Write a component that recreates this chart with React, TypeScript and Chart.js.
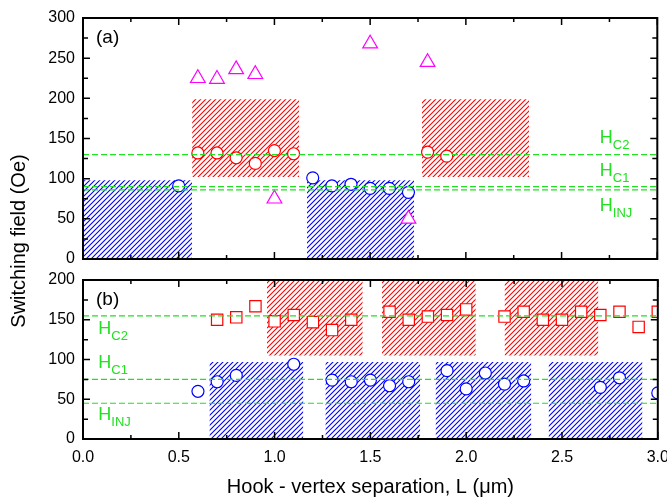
import React, { useEffect, useRef } from 'react';
import { Chart, registerables } from 'chart.js';

Chart.register(...registerables);

const FONT = '"Liberation Sans", Arial, Helvetica, sans-serif';
const BLUE = '#0000ff';
const RED = '#ff0000';
const MAGENTA = '#ff00ff';
const GREEN = '#22e022';

// ---- shared axis ----
const xTicks = [0, 0.5, 1.0, 1.5, 2.0, 2.5, 3.0];
const xTitle = 'Hook - vertex separation, L (\u03bcm)';
const yTitle = 'Switching field (Oe)';

// ---- panel (a) ----
const aYTicks = [0, 50, 100, 150, 200, 250, 300];
const aBlueX = [0.5, 1.2, 1.3, 1.4, 1.5, 1.6, 1.7];
const aBlueY = [91, 101, 91, 93, 88, 88, 83];
const aRedX = [0.6, 0.7, 0.8, 0.9, 1.0, 1.1, 1.8, 1.9];
const aRedY = [132, 132, 126, 119, 135, 131, 133, 128];
const aTriX = [0.6, 0.7, 0.8, 0.9, 1.0, 1.5, 1.7, 1.8];
const aTriY = [225, 224, 236, 230, 75, 268, 50, 245];
const aLevels = [130, 90, 86];
const aLevelNames = ['C2', 'C1', 'INJ'];
const aBlueBands = [[0, 0.57, 0, 98], [1.17, 1.73, 0, 98]];
const aRedBands = [[0.57, 1.13, 102, 199], [1.77, 2.33, 102, 199]];

// ---- panel (b) ----
const bYTicks = [0, 50, 100, 150, 200];
const bRedX = [0.7, 0.8, 0.9, 1.0, 1.1, 1.2, 1.3, 1.4, 1.6, 1.7, 1.8, 1.9, 2.0, 2.2, 2.3, 2.4, 2.5, 2.6, 2.7, 2.8, 2.9, 3.0];
const bRedY = [150, 153, 167, 148, 156, 147, 137, 150, 160, 150, 154, 156, 163, 154, 160, 150, 150, 160, 156, 160, 141, 160];
const bBlueX = [0.6, 0.7, 0.8, 1.1, 1.3, 1.4, 1.5, 1.6, 1.7, 1.9, 2.0, 2.1, 2.2, 2.3, 2.7, 2.8, 3.0];
const bBlueY = [60, 72, 80, 94, 74, 72, 74, 67, 72, 86, 63, 83, 69, 73, 65, 77, 58];
const bLevels = [155, 75, 45];
const bLevelNames = ['C2', 'C1', 'INJ'];
const bRedBands = [[0.96, 1.46, 105, 200], [1.56, 2.05, 105, 200], [2.2, 2.69, 105, 200]];
const bBlueBands = [[0.66, 1.15, 0, 97], [1.265, 1.76, 0, 97], [1.84, 2.34, 0, 97], [2.43, 2.92, 0, 97]];

// label anchor positions (data coords)
const aLabelX = 2.7;
const aLabelY = [144.5, 103, 60];
const bLabelX = 0.08;
const bLabelY = [132, 89, 24];

const zip = (xs: number[], ys: number[]) => xs.map((x, i) => ({ x, y: ys[i] }));

function hatch(color: string) {
  const s = 5;
  const c = document.createElement('canvas');
  c.width = s;
  c.height = s;
  const g = c.getContext('2d')!;
  g.strokeStyle = color;
  g.lineWidth = 1.1;
  g.beginPath();
  g.moveTo(0, s);
  g.lineTo(s, 0);
  g.moveTo(-1, 1);
  g.lineTo(1, -1);
  g.moveTo(s - 1, s + 1);
  g.lineTo(s + 1, s - 1);
  g.stroke();
  return g.createPattern(c, 'repeat')!;
}

const bandSets = (bands: number[][], pattern: CanvasPattern) =>
  bands.map(([x0, x1, y0, y1]) => ({
    type: 'line',
    data: [{ x: x0, y: y1 }, { x: x1, y: y1 }],
    fill: { value: y0 },
    backgroundColor: pattern,
    borderColor: 'rgba(0,0,0,0)',
    borderWidth: 0,
    pointRadius: 0,
    showLine: true,
    order: 2,
  }));

const levelSets = (levels: number[]) =>
  levels.map((v) => ({
    type: 'line',
    data: [{ x: 0, y: v }, { x: 3, y: v }],
    borderColor: GREEN,
    borderWidth: 1.2,
    borderDash: [6, 3],
    pointRadius: 0,
    showLine: true,
    fill: false,
    order: -1,
  }));

const markerSet = (xs: number[], ys: number[], color: string, style: string, r: number) => ({
  type: 'scatter',
  data: zip(xs, ys),
  pointStyle: style,
  pointRadius: r,
  pointBorderColor: color,
  borderColor: color,
  pointBackgroundColor: '#ffffff',
  backgroundColor: '#ffffff',
  pointBorderWidth: 1.2,
  borderWidth: 1.2,
  showLine: false,
  order: 0,
  clip: 0,
});

const framePlugin = {
  id: 'frameTicks',
  afterDraw(chart: any) {
    const { ctx, chartArea: a } = chart;
    const xs = chart.scales.x;
    const ys = chart.scales.y;
    ctx.save();
    ctx.strokeStyle = '#000';
    ctx.lineWidth = 1.5;
    ctx.beginPath();
    for (let i = 0; i <= 12; i++) {
      const v = xs.min + (i * (xs.max - xs.min)) / 12;
      const px = xs.getPixelForValue(v);
      const len = i % 2 === 0 ? 7 : 4;
      ctx.moveTo(px, a.bottom);
      ctx.lineTo(px, a.bottom - len);
      ctx.moveTo(px, a.top);
      ctx.lineTo(px, a.top + len);
    }
    const ny = Math.round((ys.max - ys.min) / 25);
    for (let i = 0; i <= ny; i++) {
      const v = ys.min + i * 25;
      const py = ys.getPixelForValue(v);
      const len = i % 2 === 0 ? 7 : 5;
      ctx.moveTo(a.left, py);
      ctx.lineTo(a.left + len, py);
      ctx.moveTo(a.right, py);
      ctx.lineTo(a.right - len, py);
    }
    ctx.stroke();
    ctx.lineWidth = 2;
    ctx.strokeRect(a.left, a.top, a.right - a.left, a.bottom - a.top);
    ctx.restore();
  },
};

function drawH(ctx: CanvasRenderingContext2D, x: number, y: number, sub: string) {
  ctx.font = `18px ${FONT}`;
  ctx.textAlign = 'left';
  ctx.textBaseline = 'alphabetic';
  ctx.fillStyle = GREEN;
  ctx.fillText('H', x, y);
  const w = ctx.measureText('H').width;
  ctx.font = `13px ${FONT}`;
  ctx.fillText(sub, x + w, y + 6);
}

const makeLabelPlugin = (tag: string, lx: number, ly: number[], names: string[], drawYTitle: boolean) => ({
  id: 'labels' + tag,
  afterDraw(chart: any) {
    const { ctx, chartArea: a } = chart;
    const xs = chart.scales.x;
    const ys = chart.scales.y;
    ctx.save();
    ctx.fillStyle = '#000';
    ctx.font = `19px ${FONT}`;
    ctx.textAlign = 'left';
    ctx.textBaseline = 'middle';
    ctx.fillText(tag, a.left + 13, a.top + 19.5);
    names.forEach((n, i) => drawH(ctx, xs.getPixelForValue(lx), ys.getPixelForValue(ly[i]), n));
    if (drawYTitle) {
      ctx.fillStyle = '#000';
      ctx.font = `20px ${FONT}`;
      ctx.textAlign = 'center';
      ctx.textBaseline = 'middle';
      ctx.translate(19, 241);
      ctx.rotate(-Math.PI / 2);
      ctx.fillText(yTitle, 0, 0);
    }
    ctx.restore();
  },
});

export default function App() {
  const refA = useRef<HTMLCanvasElement>(null);
  const refB = useRef<HTMLCanvasElement>(null);

  useEffect(() => {
    Chart.defaults.font.family = FONT;
    Chart.defaults.color = '#000';
    const blueP = hatch(BLUE);
    const redP = hatch(RED);

    const yScale = (ticks: number[]) => ({
      type: 'linear',
      min: ticks[0],
      max: ticks[ticks.length - 1],
      afterBuildTicks: (s: any) => {
        s.ticks = ticks.map((v) => ({ value: v }));
      },
      afterFit: (s: any) => {
        s.width = 75;
        s.paddingTop = 0;
        s.paddingBottom = 0;
      },
      ticks: { font: { size: 16 }, color: '#000', padding: 8 },
      grid: { display: false, drawTicks: false },
      border: { display: false },
    });

    const chartA = new Chart(refA.current!, {
      type: 'scatter',
      data: {
        datasets: [
          ...bandSets(aBlueBands, blueP),
          ...bandSets(aRedBands, redP),
          markerSet(aBlueX, aBlueY, BLUE, 'circle', 6),
          markerSet(aRedX, aRedY, RED, 'circle', 6),
          markerSet(aTriX, aTriY, MAGENTA, 'triangle', 8.5),
          ...levelSets(aLevels),
        ] as any,
      },
      options: {
        responsive: false,
        animation: false,
        devicePixelRatio: 1,
        layout: { padding: { left: 8, right: 9, top: 18, bottom: 239 } },
        plugins: { legend: { display: false }, tooltip: { enabled: false } },
        scales: {
          x: { type: 'linear', min: 0, max: 3, display: false },
          y: yScale(aYTicks),
        } as any,
      },
      plugins: [framePlugin, makeLabelPlugin('(a)', aLabelX, aLabelY, aLevelNames, true)],
    });

    const chartB = new Chart(refB.current!, {
      type: 'scatter',
      data: {
        datasets: [
          ...bandSets(bRedBands, redP),
          ...bandSets(bBlueBands, blueP),
          markerSet(bRedX, bRedY, RED, 'rect', 8),
          markerSet(bBlueX, bBlueY, BLUE, 'circle', 6),
          ...levelSets(bLevels),
        ] as any,
      },
      options: {
        responsive: false,
        animation: false,
        devicePixelRatio: 1,
        layout: { padding: { left: 8, right: 9, top: 280, bottom: 0 } },
        plugins: { legend: { display: false }, tooltip: { enabled: false } },
        scales: {
          x: {
            type: 'linear',
            min: 0,
            max: 3,
            afterBuildTicks: (s: any) => {
              s.ticks = xTicks.map((v) => ({ value: v }));
            },
            afterFit: (s: any) => {
              s.height = 59;
              s.paddingLeft = 0;
              s.paddingRight = 0;
            },
            ticks: {
              font: { size: 16 },
              color: '#000',
              padding: 9,
              maxRotation: 0,
              callback: (v: any) => Number(v).toFixed(1),
            },
            grid: { display: false, drawTicks: false },
            border: { display: false },
            title: {
              display: true,
              text: xTitle,
              color: '#000',
              font: { size: 20, lineHeight: 1 },
              padding: { top: 0, bottom: 1 },
            },
          },
          y: yScale(bYTicks),
        } as any,
      },
      plugins: [framePlugin, makeLabelPlugin('(b)', bLabelX, bLabelY, bLevelNames, false)],
    });

    return () => {
      chartA.destroy();
      chartB.destroy();
    };
  }, []);

  const cs: React.CSSProperties = { position: 'absolute', left: 0, top: 0, display: 'block' };
  return (
    <div style={{ position: 'absolute', left: 0, top: 0, width: 667, height: 498, background: '#fff' }}>
      <canvas ref={refA} width={667} height={498} style={cs} />
      <canvas ref={refB} width={667} height={498} style={cs} />
    </div>
  );
}
